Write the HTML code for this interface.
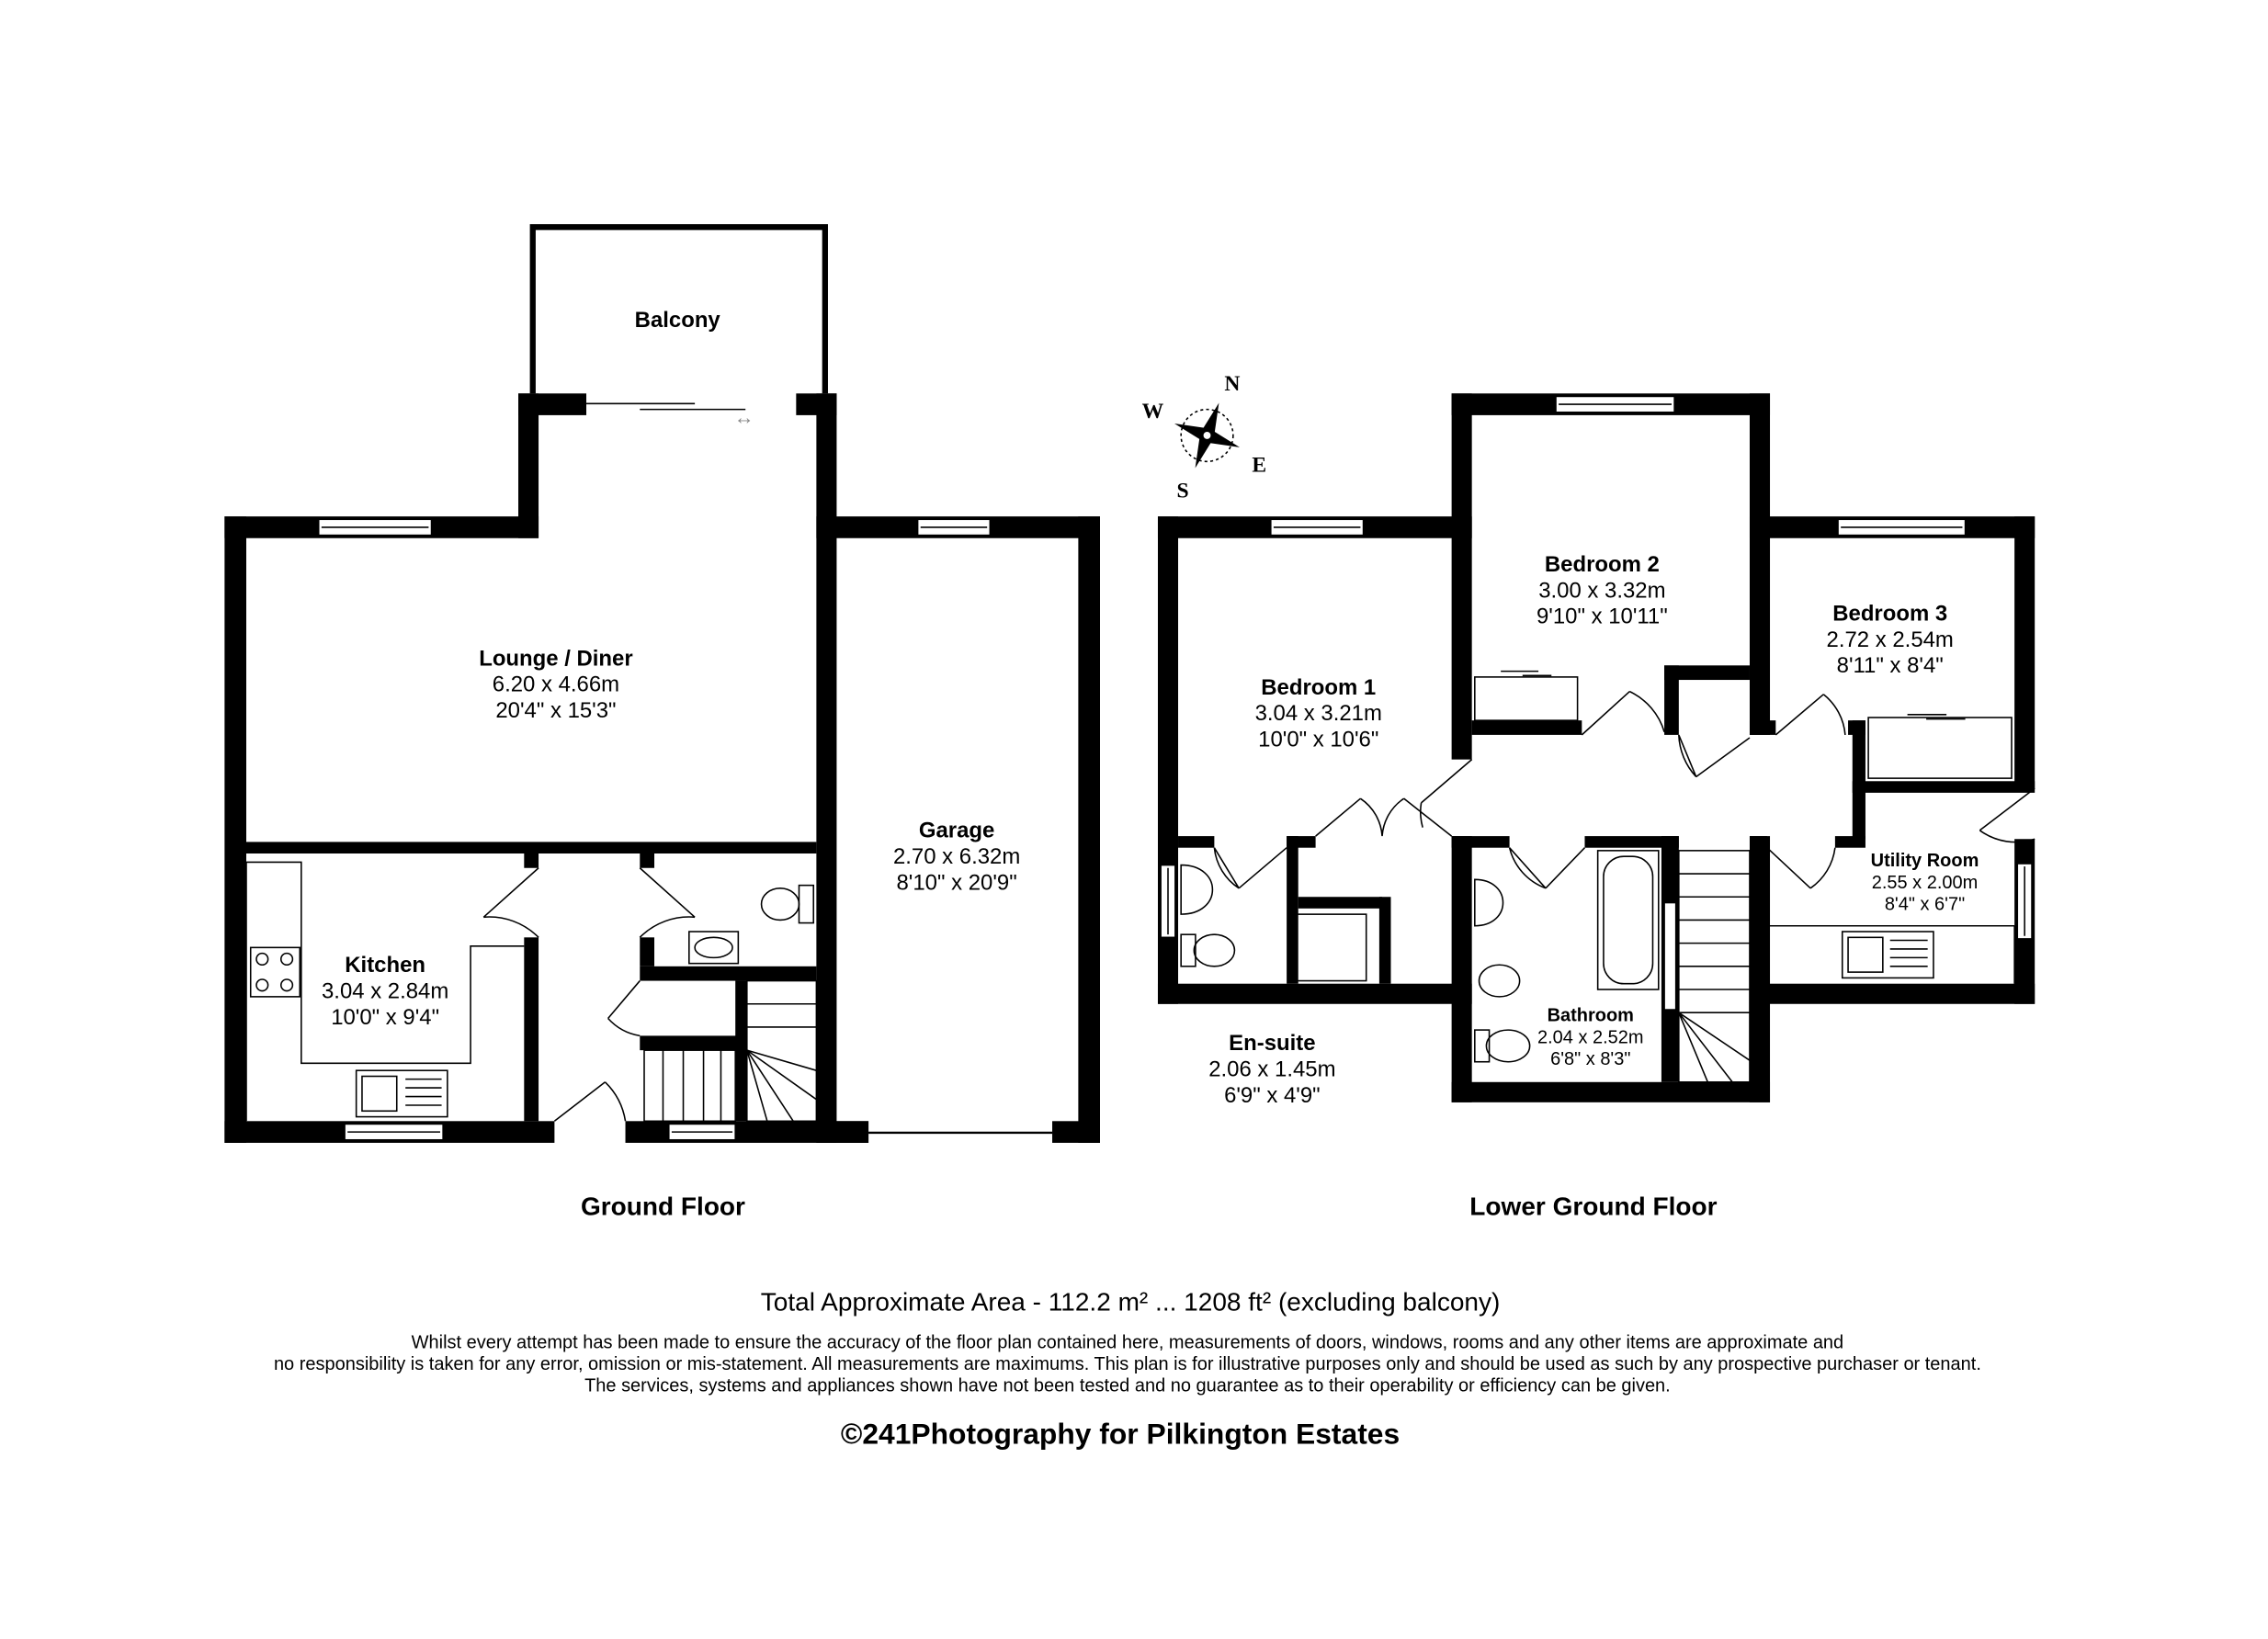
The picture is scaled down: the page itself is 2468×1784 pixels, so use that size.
<!DOCTYPE html>
<html><head><style>html,body{margin:0;padding:0;background:#fff}svg{display:block}text{font-family:"Liberation Sans",Arial,sans-serif;fill:#000}</style></head>
<body>
<svg width="2468" height="1784" viewBox="0 0 1567 1133" xmlns="http://www.w3.org/2000/svg">
<rect width="1567" height="1133" fill="#fff"/>
<g fill="#000">
<rect x="155" y="357" width="15" height="433"/>
<rect x="155" y="357" width="217" height="15"/>
<rect x="358" y="272" width="14" height="100"/>
<rect x="358" y="272" width="47" height="15"/>
<rect x="550" y="272" width="28" height="15"/>
<rect x="564" y="272" width="14" height="518"/>
<rect x="564" y="357" width="196" height="15"/>
<rect x="745" y="357" width="15" height="433"/>
<rect x="727" y="775" width="33" height="15"/>
<rect x="564" y="775" width="36" height="15"/>
<rect x="155" y="775" width="228" height="15"/>
<rect x="432" y="775" width="168" height="15"/>
<rect x="170" y="582" width="394" height="8"/>
<rect x="362" y="648" width="10" height="127"/>
<rect x="362" y="590" width="10" height="10"/>
<rect x="442" y="590" width="10" height="10"/>
<rect x="442" y="648" width="10" height="20"/>
<rect x="442" y="668" width="122" height="10"/>
<rect x="442" y="716" width="72" height="10"/>
<rect x="508" y="678" width="8" height="97"/>
</g>
<g fill="#fff" stroke="#000" stroke-width="1">
<rect x="220" y="359" width="78" height="11"/>
<rect x="634" y="359" width="50" height="11"/>
<rect x="238" y="777" width="68" height="11"/>
<rect x="462" y="777" width="46" height="11"/>
</g>
<line x1="222" y1="364.5" x2="296" y2="364.5" stroke="#000"/>
<line x1="636" y1="364.5" x2="682" y2="364.5" stroke="#000"/>
<line x1="240" y1="782.5" x2="304" y2="782.5" stroke="#000"/>
<line x1="464" y1="782.5" x2="506" y2="782.5" stroke="#000"/>
<path d="M368 272 V157 H570 V272" fill="none" stroke="#000" stroke-width="4"/>
<line x1="405" y1="279" x2="480" y2="279" stroke="#000"/>
<line x1="442" y1="283" x2="515" y2="283" stroke="#000"/>
<text x="514" y="293" font-size="14" style="fill:#888" text-anchor="middle">↔</text>
<line x1="600" y1="783" x2="727" y2="783" stroke="#000" stroke-width="1.5"/>
<g fill="none" stroke="#000" stroke-width="1">
<path d="M170 596 H208 V735 H325 V654 H362"/>
<path d="M170 596 V775"/>
<rect x="173" y="655" width="34" height="34"/>
<circle cx="181" cy="663" r="4"/><circle cx="198" cy="663" r="4"/><circle cx="181" cy="681" r="4"/><circle cx="198" cy="681" r="4"/>
<rect x="246" y="740" width="63" height="32"/>
<rect x="250" y="744" width="24" height="24"/>
<path d="M280 746 H305 M280 752 H305 M280 758 H305 M280 764 H305"/>
<path d="M372 600 L334 634 M372 648 A48 48 0 0 0 334 634"/>
<path d="M442 600 L480 634 M442 648 A48 48 0 0 1 480 634"/>
<path d="M383 775 L418 748 M432 775 A48 48 0 0 0 418 748"/>
<path d="M442 678 L420 704 M442 716 A38 38 0 0 1 420 704"/>
<rect x="552" y="612" width="10" height="26"/>
<ellipse cx="539" cy="625" rx="13" ry="11"/>
<rect x="476" y="644" width="34" height="22"/>
<ellipse cx="493" cy="655" rx="13" ry="7"/>
<rect x="445" y="726" width="63" height="49"/>
<path d="M458 726 V775 M472 726 V775 M486 726 V775 M498 726 V775"/>
<rect x="516" y="678" width="48" height="97"/>
<path d="M516 694 H564 M516 710 H564 M516 726 L564 740 M516 726 L564 760 M516 726 L548 775 M516 726 L530 775"/>
</g>
<text x="468" y="226" font-size="15.2" font-weight="bold" text-anchor="middle">Balcony</text>
<text x="384" y="460" font-size="15.2" font-weight="bold" text-anchor="middle">Lounge / Diner</text>
<text x="384" y="478" font-size="15.2" text-anchor="middle">6.20 x 4.66m</text>
<text x="384" y="496" font-size="15.2" text-anchor="middle">20'4" x 15'3"</text>
<text x="661" y="579" font-size="15.2" font-weight="bold" text-anchor="middle">Garage</text>
<text x="661" y="597" font-size="15.2" text-anchor="middle">2.70 x 6.32m</text>
<text x="661" y="615" font-size="15.2" text-anchor="middle">8'10" x 20'9"</text>
<text x="266" y="672" font-size="15.2" font-weight="bold" text-anchor="middle">Kitchen</text>
<text x="266" y="690" font-size="15.2" text-anchor="middle">3.04 x 2.84m</text>
<text x="266" y="708" font-size="15.2" text-anchor="middle">10'0" x 9'4"</text>
<text x="458" y="840" font-size="17.8" font-weight="bold" text-anchor="middle">Ground Floor</text>
<g fill="#000">
<rect x="800" y="357" width="14" height="337"/>
<rect x="800" y="357" width="217" height="15"/>
<rect x="1003" y="272" width="14" height="253"/>
<rect x="1003" y="272" width="220" height="15"/>
<rect x="1209" y="272" width="14" height="236"/>
<rect x="1209" y="357" width="197" height="15"/>
<rect x="1392" y="357" width="14" height="188"/>
<rect x="1392" y="580" width="14" height="114"/>
<rect x="1209" y="680" width="197" height="14"/>
<rect x="1209" y="578" width="14" height="184"/>
<rect x="1003" y="748" width="220" height="14"/>
<rect x="1003" y="578" width="14" height="184"/>
<rect x="800" y="680" width="217" height="14"/>
<rect x="1017" y="498" width="76" height="10"/>
<rect x="1150" y="460" width="59" height="10"/>
<rect x="1150" y="460" width="10" height="48"/>
<rect x="1209" y="498" width="18" height="10"/>
<rect x="1277" y="498" width="12" height="10"/>
<rect x="1280" y="498" width="9" height="82"/>
<rect x="1280" y="540" width="126" height="8"/>
<rect x="1268" y="578" width="21" height="8"/>
<rect x="1209" y="578" width="12" height="8"/>
<rect x="1003" y="578" width="40" height="8"/>
<rect x="1095" y="578" width="65" height="8"/>
<rect x="1148" y="578" width="12" height="170"/>
<rect x="814" y="578" width="25" height="8"/>
<rect x="889" y="578" width="20" height="8"/>
<rect x="889" y="578" width="8" height="102"/>
<rect x="897" y="620" width="58" height="8"/>
<rect x="953" y="620" width="8" height="60"/>
</g>
<g fill="#fff" stroke="#000" stroke-width="1">
<rect x="878" y="359" width="64" height="11"/>
<rect x="1075" y="274" width="82" height="11"/>
<rect x="1270" y="359" width="88" height="11"/>
<rect x="802" y="598" width="10" height="50"/>
<rect x="1394" y="597" width="10" height="52"/>
<rect x="1150" y="624" width="8" height="74"/>
</g>
<path d="M880 364.5 H940 M1077 279.5 H1155 M1272 364.5 H1356 M807 600 V646 M1399 599 V647" stroke="#000" fill="none"/>
<g fill="none" stroke="#000" stroke-width="1">
<rect x="1019" y="468" width="71" height="30"/>
<path d="M1037 464 H1063 M1052 467 H1072"/>
<rect x="1291" y="496" width="99" height="42"/>
<path d="M1318 494 H1345 M1331 497 H1358"/>
<path d="M1093 508 L1126 478 M1150 506 A45 45 0 0 0 1126 478"/>
<path d="M1160 508 L1172 537 M1160 508 A45 45 0 0 0 1172 537 M1209 510 L1172 537"/>
<path d="M1227 508 L1260 480 M1275 508 A40 40 0 0 0 1260 480"/>
<path d="M1406 545 L1368 574 M1406 580 A42 42 0 0 1 1368 574"/>
<path d="M1017 525 L982 555 M983 572 A40 40 0 0 1 982 555"/>
<path d="M1043 586 L1068 614 M1095 586 L1068 614 M1043 586 A40 40 0 0 0 1068 614"/>
<path d="M1221 586 L1251 614 M1268 586 A40 40 0 0 1 1251 614"/>
<path d="M839 586 L856 614 M889 586 L856 614 M839 586 A38 38 0 0 0 856 614"/>
<path d="M909 578 L940 552 M1003 578 L970 552 M940 552 A34 34 0 0 1 955 578 M970 552 A34 34 0 0 0 955 578"/>
<path d="M816 598 C845 598 845 632 816 632 Z"/>
<rect x="816" y="646" width="10" height="22"/><ellipse cx="839" cy="657" rx="14" ry="11"/>
<rect x="896" y="632" width="48" height="46"/>
<path d="M1019 608 C1045 608 1045 640 1019 640 Z"/>
<ellipse cx="1036" cy="678" rx="14" ry="11"/>
<rect x="1019" y="712" width="10" height="22"/><ellipse cx="1042" cy="723" rx="15" ry="11"/>
<rect x="1104" y="588" width="42" height="96"/>
<rect x="1108" y="592" width="34" height="88" rx="14"/>
<rect x="1160" y="588" width="49" height="160"/>
<path d="M1160 604 H1209 M1160 620 H1209 M1160 636 H1209 M1160 652 H1209 M1160 668 H1209 M1160 684 H1209 M1160 700 H1209 M1160 700 L1209 733 M1160 700 L1197 748 M1160 700 L1180 748"/>
<path d="M1221 640 H1392 M1392 640 V680"/>
<rect x="1273" y="644" width="63" height="32"/>
<rect x="1277" y="648" width="24" height="24"/>
<path d="M1306 650 H1332 M1306 656 H1332 M1306 662 H1332 M1306 668 H1332"/>
</g>
<g transform="translate(834,301)">
<circle r="18" fill="none" stroke="#000" stroke-dasharray="2,2"/>
<polygon points="0,-24 5,0 0,24 -5,0" fill="#000" transform="rotate(20)"/>
<polygon points="-24,0 0,-5 24,0 0,5" fill="#000" transform="rotate(20)"/>
<circle r="3" fill="#fff" stroke="#000"/>
</g>
<g style="font-weight:bold;font-size:15px">
<text x="846" y="270" style="font-family:'Liberation Serif',serif">N</text><text x="789" y="289" style="font-family:'Liberation Serif',serif">W</text><text x="865" y="326" style="font-family:'Liberation Serif',serif">E</text><text x="813" y="344" style="font-family:'Liberation Serif',serif">S</text>
</g>
<text x="1107" y="395" font-size="15.2" font-weight="bold" text-anchor="middle">Bedroom 2</text>
<text x="1107" y="413" font-size="15.2" text-anchor="middle">3.00 x 3.32m</text>
<text x="1107" y="431" font-size="15.2" text-anchor="middle">9'10" x 10'11"</text>
<text x="1306" y="429" font-size="15.2" font-weight="bold" text-anchor="middle">Bedroom 3</text>
<text x="1306" y="447" font-size="15.2" text-anchor="middle">2.72 x 2.54m</text>
<text x="1306" y="465" font-size="15.2" text-anchor="middle">8'11" x 8'4"</text>
<text x="911" y="480" font-size="15.2" font-weight="bold" text-anchor="middle">Bedroom 1</text>
<text x="911" y="498" font-size="15.2" text-anchor="middle">3.04 x 3.21m</text>
<text x="911" y="516" font-size="15.2" text-anchor="middle">10'0" x 10'6"</text>
<text x="1330" y="599" font-size="12.7" font-weight="bold" text-anchor="middle">Utility Room</text>
<text x="1330" y="614" font-size="12.7" text-anchor="middle">2.55 x 2.00m</text>
<text x="1330" y="629" font-size="12.7" text-anchor="middle">8'4" x 6'7"</text>
<text x="1099" y="706" font-size="12.7" font-weight="bold" text-anchor="middle">Bathroom</text>
<text x="1099" y="721" font-size="12.7" text-anchor="middle">2.04 x 2.52m</text>
<text x="1099" y="736" font-size="12.7" text-anchor="middle">6'8" x 8'3"</text>
<text x="879" y="726" font-size="15.2" font-weight="bold" text-anchor="middle">En-suite</text>
<text x="879" y="744" font-size="15.2" text-anchor="middle">2.06 x 1.45m</text>
<text x="879" y="762" font-size="15.2" text-anchor="middle">6'9" x 4'9"</text>
<text x="1101" y="840" font-size="17.8" font-weight="bold" text-anchor="middle">Lower Ground Floor</text>
<text x="781" y="906" font-size="17.8" text-anchor="middle">Total Approximate Area - 112.2 m² ... 1208 ft² (excluding balcony)</text>
<text x="779" y="932" font-size="12.7" text-anchor="middle">Whilst every attempt has been made to ensure the accuracy of the floor plan contained here, measurements of doors, windows, rooms and any other items are approximate and</text>
<text x="779" y="947" font-size="12.7" text-anchor="middle">no responsibility is taken for any error, omission or mis-statement. All measurements are maximums. This plan is for illustrative purposes only and should be used as such by any prospective purchaser or tenant.</text>
<text x="779" y="962" font-size="12.7" text-anchor="middle">The services, systems and appliances shown have not been tested and no guarantee as to their operability or efficiency can be given.</text>
<text x="774" y="998" font-size="20.2" font-weight="bold" text-anchor="middle">©241Photography for Pilkington Estates</text>
</svg>
</body></html>
